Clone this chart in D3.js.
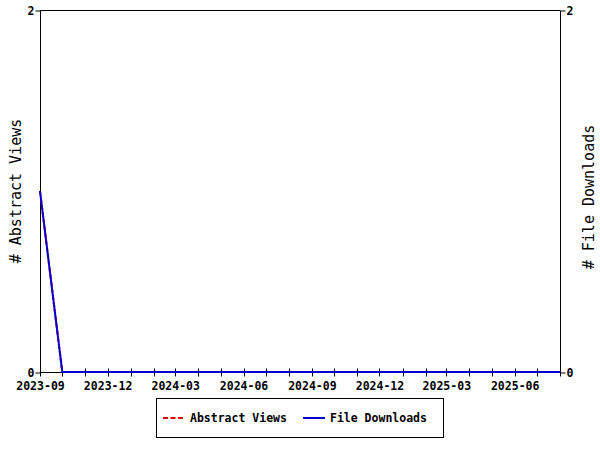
<!DOCTYPE html>
<html><head><meta charset="utf-8">
<script src="https://cdn.jsdelivr.net/npm/d3@7"></script>
<style>body{margin:0;background:#fff}svg{display:block}text{font-family:"DejaVu Sans Mono",monospace;font-weight:bold;font-size:11.5px;fill:#000}</style>
</head><body><svg id="c" width="600" height="450"></svg>
<script>
const months = ["2023-09","2023-10","2023-11","2023-12","2024-01","2024-02","2024-03","2024-04","2024-05","2024-06","2024-07","2024-08","2024-09","2024-10","2024-11","2024-12","2025-01","2025-02","2025-03","2025-04","2025-05","2025-06","2025-07","2025-08"];
const abstractViews = [1,0,0,0,0,0,0,0,0,0,0,0,0,0,0,0,0,0,0,0,0,0,0,0];
const fileDownloads = [1,0,0,0,0,0,0,0,0,0,0,0,0,0,0,0,0,0,0,0,0,0,0,0];
const tickLabels = ["2023-09","2023-12","2024-03","2024-06","2024-09","2024-12","2025-03","2025-06"];
const leftTicks = [0,2], rightTicks = [0,2];

const svg = d3.select("#c");
const L=40,R=560,T=10,B=372;
const parse = d3.utcParse("%Y-%m");
const dates = months.map(parse);
const x = d3.scaleUtc().domain([dates[0], dates[dates.length-1]]).range([L,R]);
const yL = d3.scaleLinear().domain([0,2]).range([B,T]);
const yR = d3.scaleLinear().domain([0,2]).range([B,T]);

svg.append("line").attr("x1",L).attr("x2",R).attr("y1",T+0.5).attr("y2",T+0.5).attr("stroke","#000");
const gl = svg.append("g").attr("transform",`translate(${L+0.5},0.5)`).call(d3.axisLeft(yL).tickValues(leftTicks).tickSize(5).tickFormat(d3.format("d")));
const gr = svg.append("g").attr("transform",`translate(${R+0.5},0.5)`).call(d3.axisRight(yR).tickValues(rightTicks).tickSize(5).tickFormat(d3.format("d")));
[gl,gr].forEach(g=>{g.select(".domain").attr("d",null);g.selectAll("text").attr("font-family",null).attr("font-size",null);});
gl.append("line").attr("x1",0).attr("x2",0).attr("y1",T).attr("y2",B).attr("stroke","#000");
gr.append("line").attr("x1",0).attr("x2",0).attr("y1",T).attr("y2",B).attr("stroke","#000");
gl.selectAll(".tick text").attr("x",-6);
gr.selectAll(".tick text").attr("x",6);

const gx = svg.append("g").attr("transform",`translate(0.5,${B+0.5})`);
gx.append("line").attr("x1",L).attr("x2",R).attr("stroke","#000");
gx.selectAll("line.tk").data(dates).enter().append("line").attr("class","tk")
  .attr("x1",d=>Math.round(x(d))).attr("x2",d=>Math.round(x(d))).attr("y1",-4).attr("y2",4).attr("stroke","#000");
gx.selectAll("text").data(tickLabels).enter().append("text")
  .attr("x",d=>x(parse(d))).attr("y",17).attr("text-anchor","middle").text(d=>d);

const lineL = d3.line().x((d,i)=>x(dates[i])).y(d=>yL(d));
const lineR = d3.line().x((d,i)=>x(dates[i])).y(d=>yR(d));
svg.append("path").attr("d",lineL(abstractViews)).attr("fill","none").attr("stroke","#dd0000").attr("stroke-width",2).attr("stroke-dasharray","5,2");
svg.append("path").attr("d",lineR(fileDownloads)).attr("fill","none").attr("stroke","#0000cc").attr("stroke-width",2);

svg.append("text").attr("transform",`translate(21,${(T+B)/2}) rotate(-90)`).attr("text-anchor","middle").style("font-size","15px").style("font-weight","normal").text("# Abstract Views");
svg.append("text").attr("transform",`translate(594,${(T+B)/2+6}) rotate(-90)`).attr("text-anchor","middle").style("font-size","15px").style("font-weight","normal").text("# File Downloads");

const lg = svg.append("g");
lg.append("rect").attr("x",156.5).attr("y",398.5).attr("width",287).attr("height",39).attr("fill","#fff").attr("stroke","#000");
lg.append("line").attr("x1",163).attr("x2",184).attr("y1",418).attr("y2",418).attr("stroke","#dd0000").attr("stroke-width",2).attr("stroke-dasharray","5,2.5");
lg.append("text").attr("x",190).attr("y",422).text("Abstract Views");
lg.append("line").attr("x1",303).attr("x2",325).attr("y1",418).attr("y2",418).attr("stroke","#0000cc").attr("stroke-width",2);
lg.append("text").attr("x",330).attr("y",422).text("File Downloads");
</script></body></html>
